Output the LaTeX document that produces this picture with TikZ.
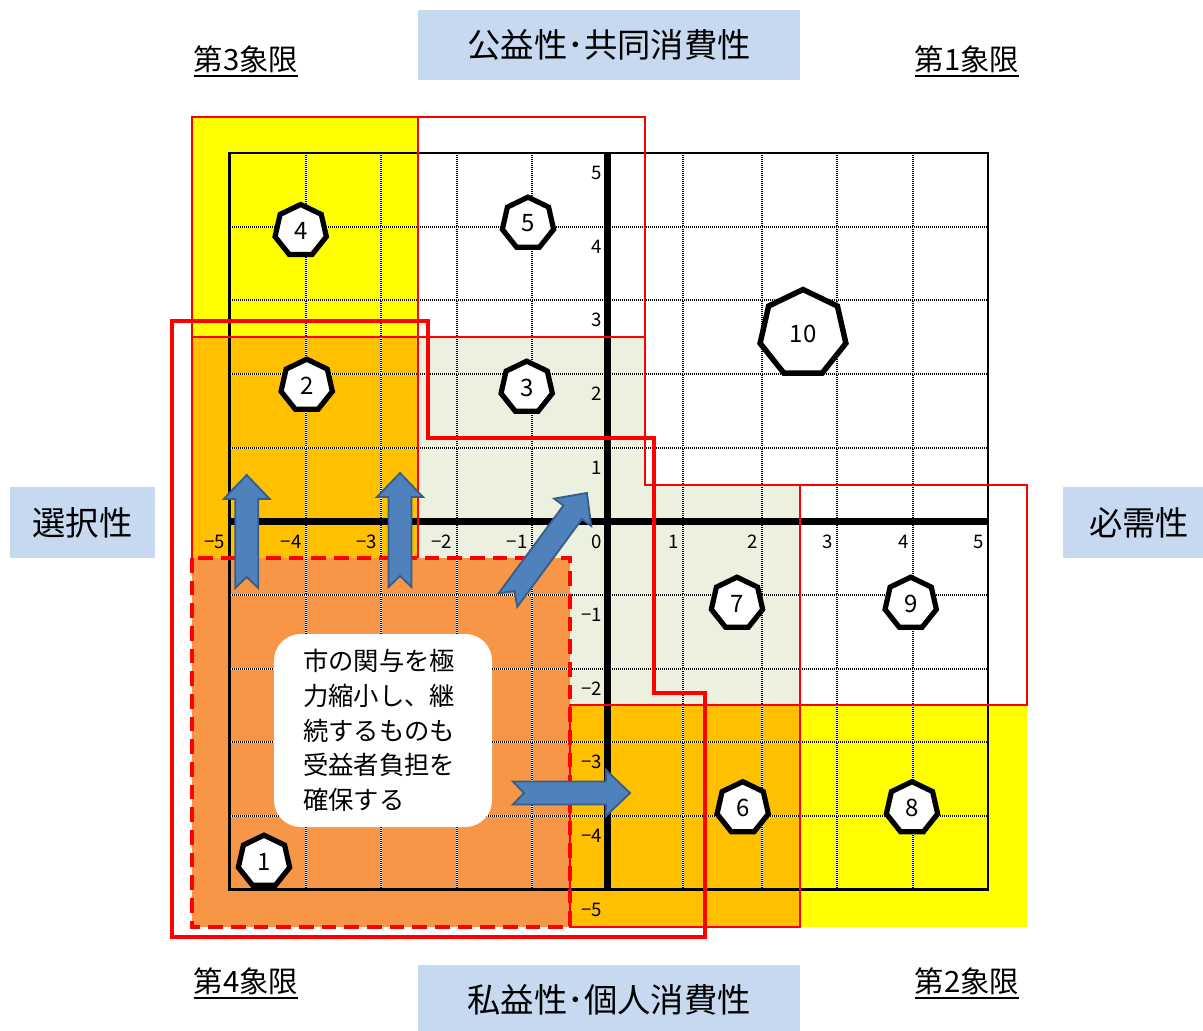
\documentclass[tikz,border=0pt]{standalone}
\usepackage{fontspec}
\setmainfont{Noto Sans CJK JP}
\usetikzlibrary{shapes.geometric}
\definecolor{yel}{HTML}{FFFF00}
\definecolor{gold}{HTML}{FFC000}
\definecolor{lgreen}{HTML}{EBF1DE}
\definecolor{dorange}{HTML}{F79646}
\definecolor{lblue}{HTML}{C6D9F1}
\definecolor{afill}{HTML}{4F81BD}
\definecolor{adraw}{HTML}{385D8A}
\definecolor{rred}{HTML}{FF0000}
\tikzset{
  gridw/.style={draw=white, line width=1.5pt},
  gridb/.style={draw=black, line width=1.5pt, dash pattern=on 0.75pt off 0.75pt},
  redthin/.style={draw=rred, line width=1.9pt},
  redthick/.style={draw=rred, line width=3.4pt},
  reddash/.style={draw=rred, line width=2.5pt, dash pattern=on 11pt off 6pt},
  tick/.style={inner sep=0pt, anchor=east, font=\fontsize{14}{14}\selectfont},
  hept/.style={regular polygon, regular polygon sides=7, draw=black, fill=white,
    line width=3.9pt, minimum size=39.5pt, inner sep=0pt, font=\fontsize{18}{18}\selectfont},
  titlebox/.style={fill=lblue, inner sep=0pt, font=\fontsize{25}{25}\selectfont},
  quad/.style={inner sep=0pt, font=\fontsize{22}{22}\selectfont},
  barrow/.style={fill=afill, draw=adraw, line width=1.4pt, line join=miter},
  tbox/.style={fill=white, rounded corners=20pt, minimum width=163.5pt, minimum height=144.75pt,
    text width=120pt, align=left, inner xsep=21.75pt, inner ysep=0pt, font=\fontsize{19}{26}\selectfont},
}
\newcommand\blockarr[4]{%
  \begin{scope}[shift={(#1,#2)}, rotate=#3]
    \filldraw[barrow] (0,-11.5) -- (#4-24,-11.5) -- (#4-24,-23) -- (#4,0) -- (#4-24,23) -- (#4-24,11.5) -- (0,11.5) -- (11,0) -- cycle;
  \end{scope}}
\begin{document}
\begin{tikzpicture}[x=0.75pt, y=-0.75pt]
\useasboundingbox (0,0) rectangle (1203,1031);
% fills
\fill[yel] (192,117) rectangle (418,337);
\fill[gold] (192,337) rectangle (418,558);
\fill[lgreen] (418,337) -- (645,337) -- (645,485) -- (800,485) -- (800,705) -- (418,705) -- cycle;
\fill[gold] (570,705) rectangle (800,927);
\fill[yel] (800,705) rectangle (1027,927);
\fill[dorange] (192,558) rectangle (570,927);
% grid
\foreach \gx in {305.7,381,456.5,531.7,682.7,762,836.7,913.3} {
  \draw[gridw] (\gx,153) -- (\gx,889.5);
  \draw[gridb] (\gx,153) -- (\gx,889.5);
}
\foreach \gy in {226.7,300.3,374,447.6,595,668.6,742.3,815.9} {
  \draw[gridw] (229.5,\gy) -- (988.3,\gy);
  \draw[gridb] (229.5,\gy) -- (988.3,\gy);
}
\draw[line width=1.6pt] (229.5,153) rectangle (988.3,889.5);
\draw[line width=5.2pt] (607.5,153) -- (607.5,889.5);
\draw[line width=5pt] (229.5,521.3) -- (988.3,521.3);
% red outlines
\draw[redthin] (192,117) rectangle (418,337);
\draw[redthin] (418,117) rectangle (645,337);
\draw[redthin] (192,558) -- (192,337) -- (418,337) -- (418,558);
\draw[redthin] (418,558) -- (418,337) -- (645,337) -- (645,485) -- (800,485) -- (800,705) -- (570,705);
\draw[redthin] (800,485) rectangle (1027,705);
\draw[redthin] (570,705) rectangle (800,927);
\draw[reddash] (192,558) rectangle (570,927);
\draw[redthick] (172,321) -- (428,321) -- (428,438) -- (654,438) -- (654,693) -- (705,693) -- (705,937) -- (172,937) -- cycle;
% tick labels
\foreach \x/\t [count=\i] in {225.5/−5,301.7/−4,377/−3,452.5/−2,527.7/−1,602/0,678.7/1,758/2,832.7/3,909.3/4,984.3/5}
  \node[tick] (xl\i) at (\x,542) {\t};
\foreach \y/\t [count=\i] in {173/5,246.7/4,320.3/3,394/2,467.6/1,615/−1,688.6/−2,762.3/−3,835.9/−4,909.5/−5}
  \node[tick] (yl\i) at (602,\y) {\t};
% heptagons
\node[hept] (h1) at (264,861.5) {1};
\node[hept] (h2) at (306.7,385.5) {2};
\node[hept] (h3) at (526.7,387.5) {3};
\node[hept] (h4) at (300.7,230.8) {4};
\node[hept] (h5) at (528,223.5) {5};
\node[hept] (h6) at (742.7,808) {6};
\node[hept] (h7) at (737,603.5) {7};
\node[hept] (h8) at (912,808) {8};
\node[hept] (h9) at (910.7,603.5) {9};
\node[hept, minimum size=66pt, line width=4.1pt] (h10) at (803,333.5) {10};
% note box
\node[tbox] (note) at (383,730.5) {市の関与を極\\力縮小し、継\\続するものも\\受益者負担を\\確保する};
% arrows
\blockarr{246.7}{588}{90}{113}
\blockarr{400}{587}{90}{114}
\blockarr{508}{600}{53.6}{133}
\blockarr{513}{793}{0}{117}
% titles
\node[titlebox, minimum width=286.5pt, minimum height=52.5pt] (top) at (609,45) {公益性･共同消費性};
\node[titlebox, minimum width=286.5pt, minimum height=52.5pt] (bottom) at (609,1000) {私益性･個人消費性};
\node[titlebox, minimum width=108.75pt, minimum height=53.25pt] (left) at (82.5,522.5) {選択性};
\node[titlebox, minimum width=114pt, minimum height=53.25pt] (right) at (1139,522.5) {必需性};
% quadrant labels
\node[quad] (q3) at (246,59) {第3象限};
\node[quad] (q1) at (967,59) {第1象限};
\node[quad] (q4) at (246,981) {第4象限};
\node[quad] (q2) at (967,981) {第2象限};
\foreach \q in {q1,q2,q3,q4}
  \draw[line width=1.8pt] ([yshift=-2.5pt]\q.south west) -- ([yshift=-2.5pt]\q.south east);
\end{tikzpicture}
\end{document}
